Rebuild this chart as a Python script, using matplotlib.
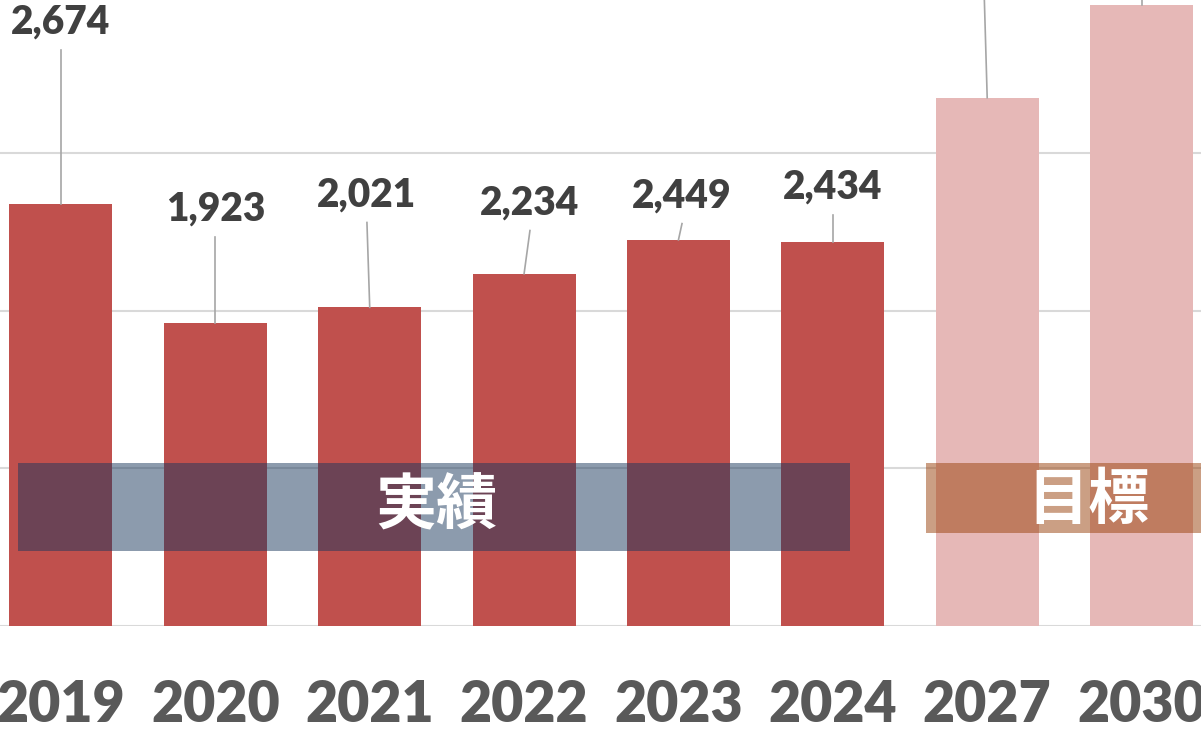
import matplotlib
matplotlib.use("Agg")
import matplotlib.pyplot as plt
from matplotlib.patches import Rectangle

# ---- data ----
years = ["2019", "2020", "2021", "2022", "2023", "2024", "2027", "2030"]
values = [2674, 1923, 2021, 2234, 2449, 2434, 3350, 3940]
value_labels = ["2,674", "1,923", "2,021", "2,234", "2,449", "2,434", "3,350", "3,940"]
is_target = [False, False, False, False, False, False, True, True]
gridlines = [0, 1000, 2000, 3000]

# label placement (data units) for the leader-line labels
label_x = [0.0, 1.0, 1.982, 3.038, 4.023, 5.0, 5.98, 7.0]
label_y = [3831, 2645, 2734, 2683, 2727, 2784, 4200, 4200]

actual_text = "実績"
target_text = "目標"

# ---- style ----
bar_color = "#C0504D"
target_color = "#E6B8B7"
W, H, DPI = 1201, 731, 100

fig = plt.figure(figsize=(W / DPI, H / DPI), dpi=DPI)
fig.patch.set_facecolor("white")
ax = fig.add_axes([0, 105 / H, 1, 626 / H])
ax.set_xlim(-0.395, 7.385)
ax.set_ylim(0, 3970)
ax.set_facecolor("white")
for s in ax.spines.values():
    s.set_visible(False)

for g in gridlines:
    ax.axhline(g, color="#D9D9D9", lw=1.5, zorder=0)

x = list(range(len(years)))
colors = [target_color if t else bar_color for t in is_target]
ax.bar(x, values, width=0.667, color=colors, zorder=2)

num_font = dict(family="Lato", weight="heavy")
ymax = ax.get_ylim()[1]
for i in x:
    ax.plot([label_x[i], i], [label_y[i] - 175, values[i]],
            color="#A6A6A6", lw=1.2, zorder=3, clip_on=False)
    if label_y[i] < ymax:  # labels of the target bars lie above the visible area
        ax.text(label_x[i], label_y[i], value_labels[i], ha="center", va="center",
                fontsize=28, color="#404040", zorder=4, **num_font)

ax.set_xticks(x)
ax.set_xticklabels(years, fontsize=40, color="#595959", **num_font)
ax.tick_params(axis="x", length=0, pad=38)
ax.set_yticks([])

# overlay boxes
ax.add_patch(Rectangle((-0.279, 476), 5.39, 558, facecolor="#1A385D",
                       alpha=0.5, edgecolor="none", zorder=5))
ax.add_patch(Rectangle((5.604, 590), 2.0, 444, facecolor="#99410A",
                       alpha=0.5, edgecolor="none", zorder=5, clip_on=False))
cjk = dict(family=["Noto Sans CJK JP", "DejaVu Sans"], weight="bold")
ax.text(2.43, 755, actual_text, ha="center", va="center", fontsize=44,
        color="white", zorder=6, **cjk)
ax.text(6.653, 790, target_text, ha="center", va="center", fontsize=44,
        color="white", zorder=6, **cjk)

fig.savefig("out.png", dpi=DPI, facecolor="white")
